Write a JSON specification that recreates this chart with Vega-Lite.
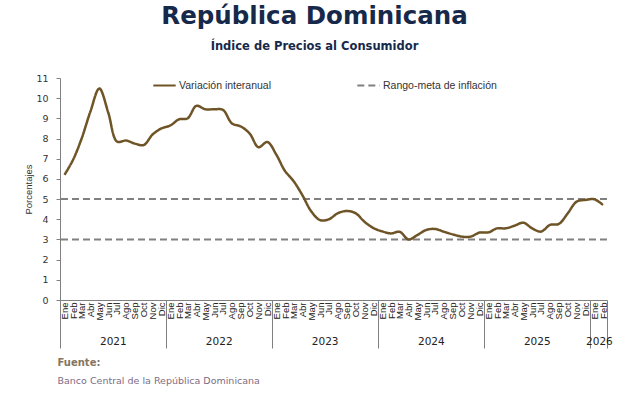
{
  "$schema": "https://vega.github.io/schema/vega-lite/v6.json",
  "width": 547,
  "height": 222,
  "autosize": {"type": "none"},
  "padding": {"left": 60, "top": 78, "right": 21, "bottom": 95},
  "background": "white",
  "title": {
    "text": "República Dominicana",
    "subtitle": "Índice de Precios al Consumidor",
    "anchor": "middle",
    "dx": -19,
    "font": "DejaVu Sans",
    "fontSize": 24.5,
    "fontWeight": "bold",
    "color": "#17294A",
    "subtitleFont": "DejaVu Sans",
    "subtitleFontSize": 11.5,
    "subtitleFontWeight": "bold",
    "subtitleColor": "#17294A",
    "subtitlePadding": 11,
    "offset": 20
  },
  "config": {"view": {"stroke": null}, "axis": {"grid": false}},
  "datasets": {
    "ipc": [
      {"fecha": "2021-01", "v": 6.2, "serie": "Variación interanual"},
      {"fecha": "2021-02", "v": 6.95, "serie": "Variación interanual"},
      {"fecha": "2021-03", "v": 8.0, "serie": "Variación interanual"},
      {"fecha": "2021-04", "v": 9.35, "serie": "Variación interanual"},
      {"fecha": "2021-05", "v": 10.48, "serie": "Variación interanual"},
      {"fecha": "2021-06", "v": 9.3, "serie": "Variación interanual"},
      {"fecha": "2021-07", "v": 7.85, "serie": "Variación interanual"},
      {"fecha": "2021-08", "v": 7.9, "serie": "Variación interanual"},
      {"fecha": "2021-09", "v": 7.75, "serie": "Variación interanual"},
      {"fecha": "2021-10", "v": 7.68, "serie": "Variación interanual"},
      {"fecha": "2021-11", "v": 8.2, "serie": "Variación interanual"},
      {"fecha": "2021-12", "v": 8.5, "serie": "Variación interanual"},
      {"fecha": "2022-01", "v": 8.65, "serie": "Variación interanual"},
      {"fecha": "2022-02", "v": 8.95, "serie": "Variación interanual"},
      {"fecha": "2022-03", "v": 9.0, "serie": "Variación interanual"},
      {"fecha": "2022-04", "v": 9.62, "serie": "Variación interanual"},
      {"fecha": "2022-05", "v": 9.45, "serie": "Variación interanual"},
      {"fecha": "2022-06", "v": 9.45, "serie": "Variación interanual"},
      {"fecha": "2022-07", "v": 9.42, "serie": "Variación interanual"},
      {"fecha": "2022-08", "v": 8.75, "serie": "Variación interanual"},
      {"fecha": "2022-09", "v": 8.6, "serie": "Variación interanual"},
      {"fecha": "2022-10", "v": 8.25, "serie": "Variación interanual"},
      {"fecha": "2022-11", "v": 7.57, "serie": "Variación interanual"},
      {"fecha": "2022-12", "v": 7.83, "serie": "Variación interanual"},
      {"fecha": "2023-01", "v": 7.2, "serie": "Variación interanual"},
      {"fecha": "2023-02", "v": 6.4, "serie": "Variación interanual"},
      {"fecha": "2023-03", "v": 5.9, "serie": "Variación interanual"},
      {"fecha": "2023-04", "v": 5.2, "serie": "Variación interanual"},
      {"fecha": "2023-05", "v": 4.4, "serie": "Variación interanual"},
      {"fecha": "2023-06", "v": 3.96, "serie": "Variación interanual"},
      {"fecha": "2023-07", "v": 4.0, "serie": "Variación interanual"},
      {"fecha": "2023-08", "v": 4.3, "serie": "Variación interanual"},
      {"fecha": "2023-09", "v": 4.41, "serie": "Variación interanual"},
      {"fecha": "2023-10", "v": 4.3, "serie": "Variación interanual"},
      {"fecha": "2023-11", "v": 3.88, "serie": "Variación interanual"},
      {"fecha": "2023-12", "v": 3.57, "serie": "Variación interanual"},
      {"fecha": "2024-01", "v": 3.4, "serie": "Variación interanual"},
      {"fecha": "2024-02", "v": 3.3, "serie": "Variación interanual"},
      {"fecha": "2024-03", "v": 3.38, "serie": "Variación interanual"},
      {"fecha": "2024-04", "v": 3.0, "serie": "Variación interanual"},
      {"fecha": "2024-05", "v": 3.22, "serie": "Variación interanual"},
      {"fecha": "2024-06", "v": 3.47, "serie": "Variación interanual"},
      {"fecha": "2024-07", "v": 3.52, "serie": "Variación interanual"},
      {"fecha": "2024-08", "v": 3.38, "serie": "Variación interanual"},
      {"fecha": "2024-09", "v": 3.25, "serie": "Variación interanual"},
      {"fecha": "2024-10", "v": 3.14, "serie": "Variación interanual"},
      {"fecha": "2024-11", "v": 3.14, "serie": "Variación interanual"},
      {"fecha": "2024-12", "v": 3.34, "serie": "Variación interanual"},
      {"fecha": "2025-01", "v": 3.35, "serie": "Variación interanual"},
      {"fecha": "2025-02", "v": 3.55, "serie": "Variación interanual"},
      {"fecha": "2025-03", "v": 3.55, "serie": "Variación interanual"},
      {"fecha": "2025-04", "v": 3.68, "serie": "Variación interanual"},
      {"fecha": "2025-05", "v": 3.83, "serie": "Variación interanual"},
      {"fecha": "2025-06", "v": 3.55, "serie": "Variación interanual"},
      {"fecha": "2025-07", "v": 3.39, "serie": "Variación interanual"},
      {"fecha": "2025-08", "v": 3.72, "serie": "Variación interanual"},
      {"fecha": "2025-09", "v": 3.77, "serie": "Variación interanual"},
      {"fecha": "2025-10", "v": 4.29, "serie": "Variación interanual"},
      {"fecha": "2025-11", "v": 4.87, "serie": "Variación interanual"},
      {"fecha": "2025-12", "v": 4.96, "serie": "Variación interanual"},
      {"fecha": "2026-01", "v": 4.99, "serie": "Variación interanual"},
      {"fecha": "2026-02", "v": 4.71, "serie": "Variación interanual"}
    ],
    "meta": [
      {"v": 3, "serie": "Rango-meta de inflación"},
      {"v": 5, "serie": "Rango-meta de inflación"}
    ]
  },
  "encoding": {
    "y": {
      "field": "v",
      "type": "quantitative",
      "scale": {"domain": [0, 11], "nice": false},
      "axis": {
        "values": [0, 1, 2, 3, 4, 5, 6, 7, 8, 9, 10, 11],
        "title": "Porcentajes",
        "titleFont": "Liberation Sans",
        "titleFontSize": 9.5,
        "titleFontWeight": "normal",
        "titleColor": "#333333",
        "titlePadding": 2,
        "labelFont": "DejaVu Sans",
        "labelFontSize": 9.5,
        "labelColor": "#333333",
        "tickSize": 4,
        "tickColor": "#808080",
        "domainColor": "#808080",
        "labelPadding": 8,
        "grid": false
      }
    }
  },
  "layer": [
    {
      "data": {"name": "meta"},
      "mark": {"type": "rule", "strokeWidth": 2},
      "encoding": {
        "color": {
          "field": "serie",
          "type": "nominal",
          "scale": {"domain": ["Variación interanual", "Rango-meta de inflación"], "range": ["#6E5426", "#808080"]},
          "legend": {
            "orient": "none",
            "legendX": 92,
            "legendY": -5,
            "direction": "horizontal",
            "columnPadding": 80,
            "symbolType": "stroke",
            "symbolSize": 500,
            "symbolStrokeWidth": 2.2,
            "labelFont": "Liberation Sans",
            "labelFontSize": 10.5,
            "labelColor": "#333333",
            "labelOffset": 2,
            "title": null
          }
        },
        "strokeDash": {
          "field": "serie",
          "type": "nominal",
          "scale": {"domain": ["Variación interanual", "Rango-meta de inflación"], "range": [[1, 0], [7, 4]]},
          "legend": {
            "orient": "none",
            "legendX": 92,
            "legendY": -5,
            "direction": "horizontal",
            "columnPadding": 80,
            "symbolType": "stroke",
            "symbolSize": 500,
            "symbolStrokeWidth": 2.2,
            "labelFont": "Liberation Sans",
            "labelFontSize": 10.5,
            "labelColor": "#333333",
            "labelOffset": 2,
            "title": null
          }
        }
      }
    },
    {
      "data": {"name": "ipc"},
      "mark": {"type": "line", "interpolate": "catmull-rom", "strokeWidth": 2.5},
      "encoding": {
        "x": {
          "field": "fecha",
          "timeUnit": "utcyearmonth",
          "type": "temporal",
          "bandPosition": 0.5,
          "scale": {"domain": [{"year": 2021, "month": 1, "date": 1, "utc": true}, {"year": 2026, "month": 3, "date": 1, "utc": true}]},
          "axis": {
            "orient": "bottom",
            "tickCount": {"interval": "month", "step": 1},
            "labelExpr": "(utcyear(datum.value) == 2026 && utcmonth(datum.value) == 2) ? '' : ['Ene','Feb','Mar','Abr','May','Jun','Jul','Ago','Sep','Oct','Nov','Dic'][utcmonth(datum.value)]",
            "labelAngle": 270,
            "labelAlign": "right",
            "labelBaseline": "middle",
            "labelOffset": 4.4,
            "labelOverlap": false,
            "labelFont": "Liberation Sans",
            "labelFontSize": 9.5,
            "labelColor": "#222222",
            "labelPadding": 2,
            "ticks": false,
            "domainColor": "#808080",
            "grid": false,
            "title": "Banco Central de la República Dominicana",
            "titleX": -3,
            "titleY": 83,
            "titleAnchor": "start",
            "titleAlign": "left",
            "titleBaseline": "alphabetic",
            "titleFont": "DejaVu Sans",
            "titleFontSize": 9.5,
            "titleFontWeight": "normal",
            "titleColor": "#7D6C86"
          }
        },
        "color": {"field": "serie", "type": "nominal"},
        "strokeDash": {"field": "serie", "type": "nominal"}
      }
    },
    {
      "data": {"name": "ipc"},
      "mark": {"type": "point", "opacity": 0},
      "encoding": {
        "x": {
          "field": "fecha",
          "timeUnit": "utcyearmonth",
          "type": "temporal",
          "bandPosition": 0.5,
          "axis": {
            "orient": "bottom",
            "values": [
              {"year": 2021, "month": 1, "date": 1, "utc": true},
              {"year": 2022, "month": 1, "date": 1, "utc": true},
              {"year": 2023, "month": 1, "date": 1, "utc": true},
              {"year": 2024, "month": 1, "date": 1, "utc": true},
              {"year": 2025, "month": 1, "date": 1, "utc": true},
              {"year": 2026, "month": 1, "date": 1, "utc": true},
              {"year": 2026, "month": 3, "date": 1, "utc": true}
            ],
            "labels": false,
            "ticks": true,
            "tickSize": 48,
            "tickColor": "#808080",
            "tickWidth": 1,
            "domain": false,
            "grid": false,
            "title": "Fuente:",
            "titleX": -3,
            "titleY": 65,
            "titleAnchor": "start",
            "titleAlign": "left",
            "titleBaseline": "alphabetic",
            "titleFont": "DejaVu Sans",
            "titleFontSize": 10,
            "titleFontWeight": "bold",
            "titleColor": "#857461"
          }
        }
      }
    },
    {
      "data": {"name": "ipc"},
      "mark": {"type": "point", "opacity": 0},
      "encoding": {
        "x": {
          "field": "fecha",
          "timeUnit": "utcyearmonth",
          "type": "temporal",
          "bandPosition": 0.5,
          "axis": {
            "orient": "bottom",
            "values": [
              {"year": 2021, "month": 7, "date": 2, "utc": true},
              {"year": 2022, "month": 7, "date": 2, "utc": true},
              {"year": 2023, "month": 7, "date": 2, "utc": true},
              {"year": 2024, "month": 7, "date": 2, "utc": true},
              {"year": 2025, "month": 7, "date": 2, "utc": true},
              {"year": 2026, "month": 2, "date": 1, "utc": true}
            ],
            "labelExpr": "utcyear(datum.value)",
            "labelAngle": 0,
            "labelAlign": "center",
            "labelBaseline": "top",
            "labelPadding": 36,
            "labelFont": "DejaVu Sans",
            "labelFontSize": 10.5,
            "labelColor": "#222222",
            "ticks": false,
            "domain": false,
            "grid": false,
            "title": null
          }
        }
      }
    }
  ],
  "resolve": {"axis": {"x": "independent"}}
}
